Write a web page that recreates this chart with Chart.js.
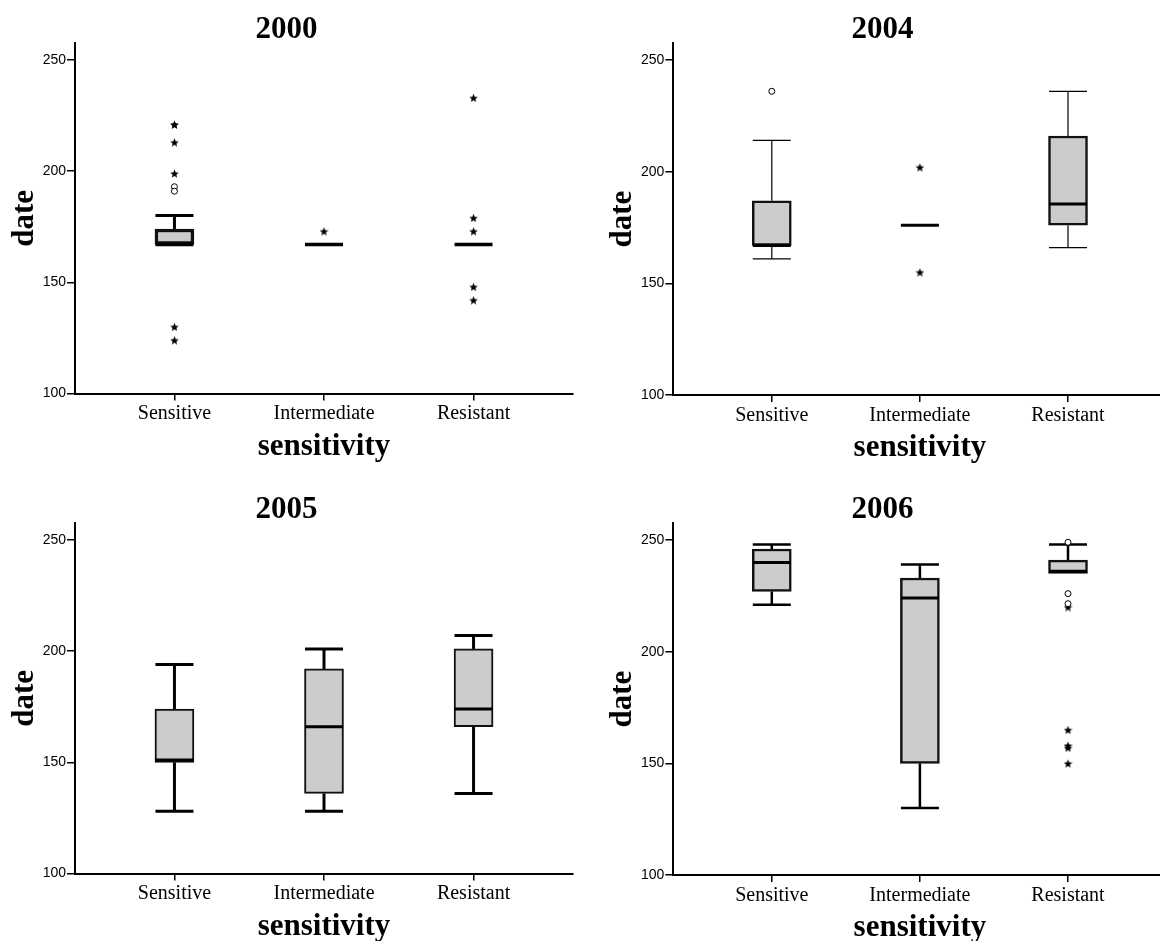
<!DOCTYPE html>
<html>
<head>
<meta charset="utf-8">
<title>date by sensitivity, 2000–2006</title>
<script src="https://cdn.jsdelivr.net/npm/chart.js@4.4.1/dist/chart.umd.min.js"></script>
<style>
  html, body { margin: 0; padding: 0; background: #fff; overflow: hidden; width: 1160px; height: 941px; }
  .panel { position: absolute; }
</style>
</head>
<body>
<div class="panel" style="left:0;top:0"><canvas id="p2000"></canvas></div>
<div class="panel" style="left:580px;top:0"><canvas id="p2004"></canvas></div>
<div class="panel" style="left:0;top:480px"><canvas id="p2005"></canvas></div>
<div class="panel" style="left:580px;top:480px"><canvas id="p2006"></canvas></div>
<script>
// Groups on the x axis and the value ticks on the y axis
const categories = ['Sensitive', 'Intermediate', 'Resistant'];
const yTickValues = [100, 150, 200, 250];

// Five-number summaries per group: [lower whisker, Q1, median, Q3, upper whisker]
const summary2000 = [[167, 167, 167, 174, 180], [167, 167, 167, 167, 167], [167, 167, 167, 167, 167]];
const summary2004 = [[161, 167, 167, 187, 214], [176, 176, 176, 176, 176], [166, 176, 185.5, 216, 236]];
const summary2005 = [[128, 150, 151, 174, 194], [128, 136, 166, 192, 201], [136, 166, 174, 201, 207]];
const summary2006 = [[221, 227, 240, 246, 248], [130, 150, 224, 233, 239], [235, 235, 236, 241, 248]];

// Outliers (open circles) per group
const outliers2000 = [[193, 191], [], []];
const outliers2004 = [[236], [], []];
const outliers2005 = [[], [], []];
const outliers2006 = [[], [], [249, 226, 221.5]];

// Extreme values (stars) per group
const extremes2000 = [[221, 221, 213, 199, 130, 124], [173], [233, 179, 173, 148, 142]];
const extremes2004 = [[], [202, 155], []];
const extremes2005 = [[], [], []];
const extremes2006 = [[], [], [220, 165, 158, 157, 150]];

const SERIF = '"Liberation Serif", "Times New Roman", serif';
const SANS = '"Liberation Sans", Arial, sans-serif';

// Small filled five-point star used as the marker for extreme values
function starMarker(size) {
  const c = document.createElement('canvas');
  c.width = size; c.height = size;
  const g = c.getContext('2d');
  g.fillStyle = '#000';
  g.beginPath();
  for (let k = 0; k < 10; k++) {
    const r = (k % 2 === 0) ? size * 0.5 : size * 0.22;
    const a = -Math.PI / 2 + k * Math.PI / 5;
    g.lineTo(size / 2 + r * Math.cos(a), size / 2 + 0.6 + r * Math.sin(a));
  }
  g.closePath();
  g.fill();
  return c;
}
const STAR = starMarker(9);

// Whiskers, caps and medians, placed through the chart's own scales
const boxWhiskers = {
  id: 'boxWhiskers',
  beforeDatasetsDraw(chart, args, opts) {
    const { ctx, scales: { x, y } } = chart;
    ctx.save();
    ctx.strokeStyle = '#000';
    ctx.lineWidth = opts.whiskerWidth;
    ctx.lineCap = 'butt';
    const seg = (x1, y1, x2, y2) => { ctx.beginPath(); ctx.moveTo(x1, y1); ctx.lineTo(x2, y2); ctx.stroke(); };
    opts.summary.forEach((s, i) => {
      const [lo, q1, , q3, hi] = s;
      const cx = x.getPixelForValue(i);
      const h = opts.capWidth / 2;
      if (hi > q3) {
        seg(cx, y.getPixelForValue(q3), cx, y.getPixelForValue(hi));
        seg(cx - h, y.getPixelForValue(hi), cx + h, y.getPixelForValue(hi));
      }
      if (lo < q1) {
        seg(cx, y.getPixelForValue(q1), cx, y.getPixelForValue(lo));
        seg(cx - h, y.getPixelForValue(lo), cx + h, y.getPixelForValue(lo));
      }
    });
    ctx.restore();
  },
  afterDatasetDraw(chart, args, opts) {
    if (args.index !== 0) return;
    const { ctx, scales: { x, y } } = chart;
    ctx.save();
    ctx.strokeStyle = '#000';
    ctx.lineWidth = opts.medianWidth;
    opts.summary.forEach((s, i) => {
      const cx = x.getPixelForValue(i);
      const my = y.getPixelForValue(s[2]);
      const h = opts.capWidth / 2;
      ctx.beginPath(); ctx.moveTo(cx - h, my); ctx.lineTo(cx + h, my); ctx.stroke();
    });
    ctx.restore();
  }
};

// Panel heading above each plot
const panelHeading = {
  id: 'panelHeading',
  afterDraw(chart, args, opts) {
    const { ctx, chartArea } = chart;
    ctx.save();
    ctx.font = 'bold 31px ' + SERIF;
    ctx.fillStyle = '#000';
    ctx.textAlign = 'center';
    ctx.textBaseline = 'alphabetic';
    ctx.fillText(opts.text, (chartArea.left + chartArea.right) / 2 - 37.5, 38);
    ctx.restore();
  }
};

function points(groups) {
  return groups.flatMap((vals, i) => vals.map(v => ({ x: i, y: v })));
}

function drawPanel(id, year, summary, outliers, extremes, side, style) {
  const canvas = document.getElementById(id);
  const W = side === 'left' ? 580 : 592;
  const H = 470;
  canvas.width = W; canvas.height = H;
  canvas.style.width = W + 'px'; canvas.style.height = H + 'px';
  const yAxisWidth = side === 'left' ? 75 : 93.3;
  const axisBottom = side === 'left' ? 393.5 : 395;
  const rightPad = side === 'left' ? 7 : 0;

  new Chart(canvas, {
    type: 'bar',
    data: {
      datasets: [
        {
          type: 'bar',
          data: summary.map((s, i) => ({ x: i, y: [s[1], s[3]] })),
          backgroundColor: '#cccccc',
          borderColor: '#111',
          borderWidth: style.boxBorder,
          borderSkipped: false,
          barThickness: 39,
          grouped: false
        },
        {
          type: 'scatter',
          data: points(outliers),
          pointStyle: 'circle',
          pointRadius: 3,
          backgroundColor: '#fff',
          borderColor: '#000',
          borderWidth: 1
        },
        {
          type: 'scatter',
          data: points(extremes),
          pointStyle: STAR,
          pointRadius: 4.5
        }
      ]
    },
    options: {
      responsive: false,
      animation: false,
      events: [],
      layout: { padding: { top: 43.3, left: 0, right: rightPad, bottom: 0 } },
      plugins: {
        legend: { display: false },
        tooltip: { enabled: false },
        title: { display: false },
        panelHeading: { text: year },
        boxWhiskers: {
          summary: summary,
          capWidth: 38,
          whiskerWidth: style.whisker,
          medianWidth: style.median
        }
      },
      scales: {
        x: {
          type: 'linear',
          min: -0.665,
          max: 2.665,
          offset: false,
          afterBuildTicks: axis => { axis.ticks = categories.map((_, i) => ({ value: i })); },
          afterFit: scale => { scale.height = H - axisBottom; },
          ticks: {
            callback: v => categories[v],
            font: { family: SERIF, size: 20 },
            color: '#000',
            padding: 1.7,
            autoSkip: false,
            maxRotation: 0
          },
          grid: { offset: false, drawOnChartArea: false, drawTicks: true, tickLength: 7, color: '#000', lineWidth: 1.5 },
          border: { display: true, color: '#000', width: 2 },
          title: {
            display: true,
            text: 'sensitivity',
            font: { family: SERIF, size: 31, weight: 'bold' },
            color: '#000',
            padding: { top: 0, bottom: side === 'left' ? 4.9 : 3.4 }
          }
        },
        y: {
          type: 'linear',
          min: 100,
          max: 257.5,
          afterBuildTicks: axis => { axis.ticks = yTickValues.map(v => ({ value: v })); },
          afterFit: scale => { scale.width = yAxisWidth; },
          ticks: {
            font: { family: SANS, size: 14 },
            color: '#000',
            padding: 1
          },
          grid: { drawOnChartArea: false, drawTicks: true, tickLength: 8, color: '#000', lineWidth: 1.5 },
          border: { display: true, color: '#000', width: 2 },
          title: {
            display: true,
            text: 'date',
            font: { family: SERIF, size: 31, weight: 'bold' },
            color: '#000',
            padding: { top: yAxisWidth - 69, bottom: 0 }
          }
        }
      }
    },
    plugins: [boxWhiskers, panelHeading]
  });
}

drawPanel('p2000', '2000', summary2000, outliers2000, extremes2000, 'left', { boxBorder: 3.5, whisker: 3, median: 3.5 });
drawPanel('p2004', '2004', summary2004, outliers2004, extremes2004, 'right', { boxBorder: 2.5, whisker: 1.2, median: 3 });
drawPanel('p2005', '2005', summary2005, outliers2005, extremes2005, 'left', { boxBorder: 2, whisker: 3, median: 3 });
drawPanel('p2006', '2006', summary2006, outliers2006, extremes2006, 'right', { boxBorder: 2.5, whisker: 2.5, median: 3 });
</script>
</body>
</html>
